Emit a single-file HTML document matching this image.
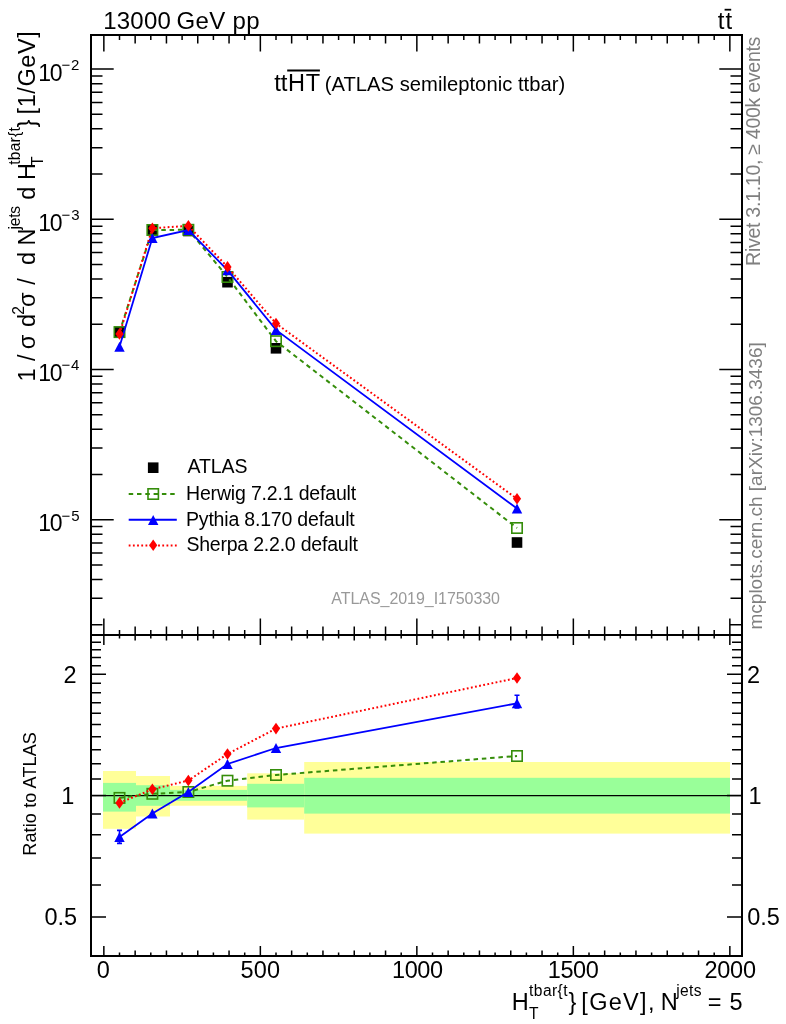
<!DOCTYPE html>
<html><head><meta charset="utf-8"><style>html,body{margin:0;padding:0;background:#fff;overflow:hidden}svg{display:block;will-change:transform}text{font-family:"Liberation Sans",sans-serif}</style></head>
<body><svg width="786" height="1024" viewBox="0 0 786 1024">
<rect x="0" y="0" width="786" height="1024" fill="#fff"/>
<defs><clipPath id="cm"><rect x="92" y="36" width="649" height="598"/></clipPath><clipPath id="cr"><rect x="92" y="636" width="649" height="319"/></clipPath></defs>
<rect x="103" y="771" width="33.00" height="57.80" fill="#ffff99"/>
<rect x="103" y="782.9" width="33.00" height="28.70" fill="#99ff99"/>
<rect x="136" y="776" width="34.00" height="40.50" fill="#ffff99"/>
<rect x="136" y="785.2" width="34.00" height="20.60" fill="#99ff99"/>
<rect x="170" y="785.9" width="77.20" height="19.80" fill="#ffff99"/>
<rect x="170" y="789.9" width="77.20" height="10.90" fill="#99ff99"/>
<rect x="247.2" y="773.3" width="57.00" height="46.30" fill="#ffff99"/>
<rect x="247.2" y="783.8" width="57.00" height="23.60" fill="#99ff99"/>
<rect x="304.2" y="762" width="425.80" height="71.60" fill="#ffff99"/>
<rect x="304.2" y="777.8" width="425.80" height="35.80" fill="#99ff99"/>
<line x1="91" y1="795.6" x2="742" y2="795.6" stroke="#000" stroke-width="1.35"/>
<path d="M103.85 35.00L103.85 51.50M103.85 635.00L103.85 618.50M103.85 635.00L103.85 645.00M103.85 956.00L103.85 946.00M119.50 35.00L119.50 40.00M119.50 635.00L119.50 630.00M119.50 635.00L119.50 638.50M119.50 956.00L119.50 952.50M135.15 35.00L135.15 43.50M135.15 635.00L135.15 626.50M135.15 635.00L135.15 640.50M135.15 956.00L135.15 950.50M150.80 35.00L150.80 40.00M150.80 635.00L150.80 630.00M150.80 635.00L150.80 638.50M150.80 956.00L150.80 952.50M166.45 35.00L166.45 43.50M166.45 635.00L166.45 626.50M166.45 635.00L166.45 640.50M166.45 956.00L166.45 950.50M182.10 35.00L182.10 40.00M182.10 635.00L182.10 630.00M182.10 635.00L182.10 638.50M182.10 956.00L182.10 952.50M197.75 35.00L197.75 43.50M197.75 635.00L197.75 626.50M197.75 635.00L197.75 640.50M197.75 956.00L197.75 950.50M213.40 35.00L213.40 40.00M213.40 635.00L213.40 630.00M213.40 635.00L213.40 638.50M213.40 956.00L213.40 952.50M229.05 35.00L229.05 43.50M229.05 635.00L229.05 626.50M229.05 635.00L229.05 640.50M229.05 956.00L229.05 950.50M244.70 35.00L244.70 40.00M244.70 635.00L244.70 630.00M244.70 635.00L244.70 638.50M244.70 956.00L244.70 952.50M260.35 35.00L260.35 51.50M260.35 635.00L260.35 618.50M260.35 635.00L260.35 645.00M260.35 956.00L260.35 946.00M276.00 35.00L276.00 40.00M276.00 635.00L276.00 630.00M276.00 635.00L276.00 638.50M276.00 956.00L276.00 952.50M291.65 35.00L291.65 43.50M291.65 635.00L291.65 626.50M291.65 635.00L291.65 640.50M291.65 956.00L291.65 950.50M307.30 35.00L307.30 40.00M307.30 635.00L307.30 630.00M307.30 635.00L307.30 638.50M307.30 956.00L307.30 952.50M322.95 35.00L322.95 43.50M322.95 635.00L322.95 626.50M322.95 635.00L322.95 640.50M322.95 956.00L322.95 950.50M338.60 35.00L338.60 40.00M338.60 635.00L338.60 630.00M338.60 635.00L338.60 638.50M338.60 956.00L338.60 952.50M354.25 35.00L354.25 43.50M354.25 635.00L354.25 626.50M354.25 635.00L354.25 640.50M354.25 956.00L354.25 950.50M369.90 35.00L369.90 40.00M369.90 635.00L369.90 630.00M369.90 635.00L369.90 638.50M369.90 956.00L369.90 952.50M385.55 35.00L385.55 43.50M385.55 635.00L385.55 626.50M385.55 635.00L385.55 640.50M385.55 956.00L385.55 950.50M401.20 35.00L401.20 40.00M401.20 635.00L401.20 630.00M401.20 635.00L401.20 638.50M401.20 956.00L401.20 952.50M416.85 35.00L416.85 51.50M416.85 635.00L416.85 618.50M416.85 635.00L416.85 645.00M416.85 956.00L416.85 946.00M432.50 35.00L432.50 40.00M432.50 635.00L432.50 630.00M432.50 635.00L432.50 638.50M432.50 956.00L432.50 952.50M448.15 35.00L448.15 43.50M448.15 635.00L448.15 626.50M448.15 635.00L448.15 640.50M448.15 956.00L448.15 950.50M463.80 35.00L463.80 40.00M463.80 635.00L463.80 630.00M463.80 635.00L463.80 638.50M463.80 956.00L463.80 952.50M479.45 35.00L479.45 43.50M479.45 635.00L479.45 626.50M479.45 635.00L479.45 640.50M479.45 956.00L479.45 950.50M495.10 35.00L495.10 40.00M495.10 635.00L495.10 630.00M495.10 635.00L495.10 638.50M495.10 956.00L495.10 952.50M510.75 35.00L510.75 43.50M510.75 635.00L510.75 626.50M510.75 635.00L510.75 640.50M510.75 956.00L510.75 950.50M526.40 35.00L526.40 40.00M526.40 635.00L526.40 630.00M526.40 635.00L526.40 638.50M526.40 956.00L526.40 952.50M542.05 35.00L542.05 43.50M542.05 635.00L542.05 626.50M542.05 635.00L542.05 640.50M542.05 956.00L542.05 950.50M557.70 35.00L557.70 40.00M557.70 635.00L557.70 630.00M557.70 635.00L557.70 638.50M557.70 956.00L557.70 952.50M573.35 35.00L573.35 51.50M573.35 635.00L573.35 618.50M573.35 635.00L573.35 645.00M573.35 956.00L573.35 946.00M589.00 35.00L589.00 40.00M589.00 635.00L589.00 630.00M589.00 635.00L589.00 638.50M589.00 956.00L589.00 952.50M604.65 35.00L604.65 43.50M604.65 635.00L604.65 626.50M604.65 635.00L604.65 640.50M604.65 956.00L604.65 950.50M620.30 35.00L620.30 40.00M620.30 635.00L620.30 630.00M620.30 635.00L620.30 638.50M620.30 956.00L620.30 952.50M635.95 35.00L635.95 43.50M635.95 635.00L635.95 626.50M635.95 635.00L635.95 640.50M635.95 956.00L635.95 950.50M651.60 35.00L651.60 40.00M651.60 635.00L651.60 630.00M651.60 635.00L651.60 638.50M651.60 956.00L651.60 952.50M667.25 35.00L667.25 43.50M667.25 635.00L667.25 626.50M667.25 635.00L667.25 640.50M667.25 956.00L667.25 950.50M682.90 35.00L682.90 40.00M682.90 635.00L682.90 630.00M682.90 635.00L682.90 638.50M682.90 956.00L682.90 952.50M698.55 35.00L698.55 43.50M698.55 635.00L698.55 626.50M698.55 635.00L698.55 640.50M698.55 956.00L698.55 950.50M714.20 35.00L714.20 40.00M714.20 635.00L714.20 630.00M714.20 635.00L714.20 638.50M714.20 956.00L714.20 952.50M729.85 35.00L729.85 51.50M729.85 635.00L729.85 618.50M729.85 635.00L729.85 645.00M729.85 956.00L729.85 946.00M91.00 624.69L102.50 624.69M742.00 624.69L730.50 624.69M91.00 598.24L102.50 598.24M742.00 598.24L730.50 598.24M91.00 579.47L102.50 579.47M742.00 579.47L730.50 579.47M91.00 564.91L102.50 564.91M742.00 564.91L730.50 564.91M91.00 553.02L102.50 553.02M742.00 553.02L730.50 553.02M91.00 542.97L102.50 542.97M742.00 542.97L730.50 542.97M91.00 534.26L102.50 534.26M742.00 534.26L730.50 534.26M91.00 526.57L102.50 526.57M742.00 526.57L730.50 526.57M91.00 519.70L113.70 519.70M742.00 519.70L719.30 519.70M91.00 474.49L102.50 474.49M742.00 474.49L730.50 474.49M91.00 448.04L102.50 448.04M742.00 448.04L730.50 448.04M91.00 429.27L102.50 429.27M742.00 429.27L730.50 429.27M91.00 414.71L102.50 414.71M742.00 414.71L730.50 414.71M91.00 402.82L102.50 402.82M742.00 402.82L730.50 402.82M91.00 392.77L102.50 392.77M742.00 392.77L730.50 392.77M91.00 384.06L102.50 384.06M742.00 384.06L730.50 384.06M91.00 376.37L102.50 376.37M742.00 376.37L730.50 376.37M91.00 369.50L113.70 369.50M742.00 369.50L719.30 369.50M91.00 324.29L102.50 324.29M742.00 324.29L730.50 324.29M91.00 297.84L102.50 297.84M742.00 297.84L730.50 297.84M91.00 279.07L102.50 279.07M742.00 279.07L730.50 279.07M91.00 264.51L102.50 264.51M742.00 264.51L730.50 264.51M91.00 252.62L102.50 252.62M742.00 252.62L730.50 252.62M91.00 242.57L102.50 242.57M742.00 242.57L730.50 242.57M91.00 233.86L102.50 233.86M742.00 233.86L730.50 233.86M91.00 226.17L102.50 226.17M742.00 226.17L730.50 226.17M91.00 219.30L113.70 219.30M742.00 219.30L719.30 219.30M91.00 174.09L102.50 174.09M742.00 174.09L730.50 174.09M91.00 147.64L102.50 147.64M742.00 147.64L730.50 147.64M91.00 128.87L102.50 128.87M742.00 128.87L730.50 128.87M91.00 114.31L102.50 114.31M742.00 114.31L730.50 114.31M91.00 102.42L102.50 102.42M742.00 102.42L730.50 102.42M91.00 92.37L102.50 92.37M742.00 92.37L730.50 92.37M91.00 83.66L102.50 83.66M742.00 83.66L730.50 83.66M91.00 75.97L102.50 75.97M742.00 75.97L730.50 75.97M91.00 69.10L113.70 69.10M742.00 69.10L719.30 69.10M91.00 956.02L101.00 956.02M742.00 956.02L732.00 956.02M91.00 916.95L106.00 916.95M742.00 916.95L727.00 916.95M91.00 885.03L101.00 885.03M742.00 885.03L732.00 885.03M91.00 858.04L101.00 858.04M742.00 858.04L732.00 858.04M91.00 834.67L101.00 834.67M742.00 834.67L732.00 834.67M91.00 814.05L101.00 814.05M742.00 814.05L732.00 814.05M91.00 795.60L106.00 795.60M742.00 795.60L727.00 795.60M91.00 778.91L101.00 778.91M742.00 778.91L732.00 778.91M91.00 763.68L101.00 763.68M742.00 763.68L732.00 763.68M91.00 749.67L101.00 749.67M742.00 749.67L732.00 749.67M91.00 736.69L101.00 736.69M742.00 736.69L732.00 736.69M91.00 724.61L101.00 724.61M742.00 724.61L732.00 724.61M91.00 713.32L101.00 713.32M742.00 713.32L732.00 713.32M91.00 702.70L101.00 702.70M742.00 702.70L732.00 702.70M91.00 692.70L101.00 692.70M742.00 692.70L732.00 692.70M91.00 683.23L101.00 683.23M742.00 683.23L732.00 683.23M91.00 674.25L106.00 674.25M742.00 674.25L727.00 674.25M91.00 665.71L101.00 665.71M742.00 665.71L732.00 665.71M91.00 657.56L101.00 657.56M742.00 657.56L732.00 657.56M91.00 649.78L101.00 649.78M742.00 649.78L732.00 649.78M91.00 642.33L101.00 642.33M742.00 642.33L732.00 642.33M91.00 635.18L101.00 635.18M742.00 635.18L732.00 635.18" stroke="#000" stroke-width="1.5" fill="none"/>
<rect x="114.20" y="326.70" width="10.6" height="10.6" fill="#000"/>
<rect x="147.06" y="224.70" width="10.6" height="10.6" fill="#000"/>
<rect x="183.06" y="225.70" width="10.6" height="10.6" fill="#000"/>
<rect x="222.19" y="276.90" width="10.6" height="10.6" fill="#000"/>
<rect x="270.70" y="343.00" width="10.6" height="10.6" fill="#000"/>
<rect x="511.71" y="537.20" width="10.6" height="10.6" fill="#000"/>
<polyline points="119.50,332.10 152.37,230.00 188.36,229.80 227.49,277.00 276.00,341.20 517.01,528.00" fill="none" stroke="#358d0a" stroke-width="2" stroke-dasharray="4.5 3.8" clip-path="url(#cm)"/>
<rect x="114.30" y="326.90" width="10.4" height="10.4" fill="none" stroke="#358d0a" stroke-width="1.6"/>
<rect x="147.17" y="224.80" width="10.4" height="10.4" fill="none" stroke="#358d0a" stroke-width="1.6"/>
<rect x="183.16" y="224.60" width="10.4" height="10.4" fill="none" stroke="#358d0a" stroke-width="1.6"/>
<rect x="222.29" y="271.80" width="10.4" height="10.4" fill="none" stroke="#358d0a" stroke-width="1.6"/>
<rect x="270.80" y="336.00" width="10.4" height="10.4" fill="none" stroke="#358d0a" stroke-width="1.6"/>
<rect x="511.81" y="522.80" width="10.4" height="10.4" fill="none" stroke="#358d0a" stroke-width="1.6"/>
<polyline points="119.50,346.80 152.37,238.00 188.36,230.00 227.49,270.20 276.00,329.90 517.01,508.50" fill="none" stroke="#0000ff" stroke-width="1.8" clip-path="url(#cm)"/>
<path d="M114.30 351.80L124.70 351.80L119.50 341.80Z" fill="#0000ff"/>
<path d="M147.17 243.00L157.56 243.00L152.37 233.00Z" fill="#0000ff"/>
<path d="M183.16 235.00L193.56 235.00L188.36 225.00Z" fill="#0000ff"/>
<path d="M222.29 275.20L232.69 275.20L227.49 265.20Z" fill="#0000ff"/>
<path d="M270.80 334.90L281.20 334.90L276.00 324.90Z" fill="#0000ff"/>
<path d="M511.81 513.50L522.21 513.50L517.01 503.50Z" fill="#0000ff"/>
<polyline points="119.50,333.90 152.37,228.20 188.36,225.90 227.49,266.90 276.00,323.50 517.01,498.80" fill="none" stroke="#ff0000" stroke-width="2" stroke-dasharray="1.8 2.4" clip-path="url(#cm)"/>
<path d="M119.50 328.10L123.60 333.90L119.50 339.70L115.40 333.90Z" fill="#ff0000"/>
<path d="M152.37 222.40L156.47 228.20L152.37 234.00L148.27 228.20Z" fill="#ff0000"/>
<path d="M188.36 220.10L192.46 225.90L188.36 231.70L184.26 225.90Z" fill="#ff0000"/>
<path d="M227.49 261.10L231.59 266.90L227.49 272.70L223.39 266.90Z" fill="#ff0000"/>
<path d="M276.00 317.70L280.10 323.50L276.00 329.30L271.90 323.50Z" fill="#ff0000"/>
<path d="M517.01 493.00L521.11 498.80L517.01 504.60L512.91 498.80Z" fill="#ff0000"/>
<polyline points="119.50,797.90 152.37,793.80 188.36,792.00 227.49,780.70 276.00,775.00 517.01,756.00" fill="none" stroke="#358d0a" stroke-width="2" stroke-dasharray="4.5 3.8" clip-path="url(#cr)"/>
<rect x="114.30" y="792.70" width="10.4" height="10.4" fill="none" stroke="#358d0a" stroke-width="1.6"/>
<rect x="147.17" y="788.60" width="10.4" height="10.4" fill="none" stroke="#358d0a" stroke-width="1.6"/>
<rect x="183.16" y="786.80" width="10.4" height="10.4" fill="none" stroke="#358d0a" stroke-width="1.6"/>
<rect x="222.29" y="775.50" width="10.4" height="10.4" fill="none" stroke="#358d0a" stroke-width="1.6"/>
<rect x="270.80" y="769.80" width="10.4" height="10.4" fill="none" stroke="#358d0a" stroke-width="1.6"/>
<rect x="511.81" y="750.80" width="10.4" height="10.4" fill="none" stroke="#358d0a" stroke-width="1.6"/>
<polyline points="119.50,837.00 152.37,813.50 188.36,792.00 227.49,764.00 276.00,748.00 517.01,703.30" fill="none" stroke="#0000ff" stroke-width="1.8" clip-path="url(#cr)"/>
<path d="M119.50 830.4L119.50 843.4M117.00 830.4L122.00 830.4M117.00 843.4L122.00 843.4" stroke="#0000ff" stroke-width="1.6" fill="none"/>
<path d="M517.01 695.3L517.01 708M514.51 695.3L519.51 695.3M514.51 708L519.51 708" stroke="#0000ff" stroke-width="1.6" fill="none"/>
<path d="M114.30 842.00L124.70 842.00L119.50 832.00Z" fill="#0000ff"/>
<path d="M147.17 818.50L157.56 818.50L152.37 808.50Z" fill="#0000ff"/>
<path d="M183.16 797.00L193.56 797.00L188.36 787.00Z" fill="#0000ff"/>
<path d="M222.29 769.00L232.69 769.00L227.49 759.00Z" fill="#0000ff"/>
<path d="M270.80 753.00L281.20 753.00L276.00 743.00Z" fill="#0000ff"/>
<path d="M511.81 708.30L522.21 708.30L517.01 698.30Z" fill="#0000ff"/>
<polyline points="119.50,802.90 152.37,789.30 188.36,780.50 227.49,754.00 276.00,728.60 517.01,678.00" fill="none" stroke="#ff0000" stroke-width="2" stroke-dasharray="1.8 2.4" clip-path="url(#cr)"/>
<path d="M119.50 797.10L123.60 802.90L119.50 808.70L115.40 802.90Z" fill="#ff0000"/>
<path d="M152.37 783.50L156.47 789.30L152.37 795.10L148.27 789.30Z" fill="#ff0000"/>
<path d="M188.36 774.70L192.46 780.50L188.36 786.30L184.26 780.50Z" fill="#ff0000"/>
<path d="M227.49 748.20L231.59 754.00L227.49 759.80L223.39 754.00Z" fill="#ff0000"/>
<path d="M276.00 722.80L280.10 728.60L276.00 734.40L271.90 728.60Z" fill="#ff0000"/>
<path d="M517.01 672.20L521.11 678.00L517.01 683.80L512.91 678.00Z" fill="#ff0000"/>
<path d="M91 35H742V956H91ZM91 635H742" stroke="#000" stroke-width="2" fill="none"/>
<rect x="147.90" y="462.40" width="10.6" height="10.6" fill="#000"/>
<line x1="128.7" y1="494" x2="175.0" y2="494" stroke="#358d0a" stroke-width="2" stroke-dasharray="4.5 3.8"/>
<rect x="148.00" y="488.80" width="10.4" height="10.4" fill="none" stroke="#358d0a" stroke-width="1.6"/>
<line x1="128.7" y1="519.8" x2="176.8" y2="519.8" stroke="#0000ff" stroke-width="2"/>
<path d="M148.00 525.00L158.40 525.00L153.20 515.00Z" fill="#0000ff"/>
<line x1="128.7" y1="545.4" x2="176.8" y2="545.4" stroke="#ff0000" stroke-width="2" stroke-dasharray="1.8 2.4"/>
<path d="M153.20 539.50L157.30 545.30L153.20 551.10L149.10 545.30Z" fill="#ff0000"/>
<text x="187.54" y="472.70" font-size="19.5" letter-spacing="-0.118">ATLAS</text>
<text x="186.02" y="499.60" font-size="19.5" letter-spacing="-0.171">Herwig 7.2.1 default</text>
<text x="186.02" y="525.50" font-size="19.5" letter-spacing="-0.194">Pythia 8.170 default</text>
<text x="186.43" y="551.00" font-size="19.5" letter-spacing="-0.217">Sherpa 2.2.0 default</text>
<text x="103.30" y="29.00" font-size="24" letter-spacing="0.179">13000</text>
<text x="176.57" y="29.00" font-size="24" letter-spacing="0.308">GeV pp</text>
<text x="717.64" y="29.00" font-size="24" letter-spacing="1.123">tt</text>
<rect x="724.6" y="8.8" width="6.6" height="1.8" fill="#000"/>
<text x="274.17" y="91.20" font-size="24">tt</text>
<text x="288.08" y="91.20" font-size="23.5" letter-spacing="0.617">HT</text>
<rect x="287.2" y="69.5" width="32.7" height="2" fill="#000"/>
<text x="324.68" y="91.20" font-size="20.2" letter-spacing="0.033">(ATLAS semileptonic ttbar)</text>
<text x="331.35" y="604.20" font-size="16" letter-spacing="-0.054" fill="#999">ATLAS_2019_I1750330</text>
<text transform="rotate(-90)" x="-265.90" y="759.90" font-size="19.6" letter-spacing="-0.308" fill="#808080">Rivet 3.1.10, ≥ 400k events</text>
<text transform="rotate(-90)" x="-629.51" y="761.90" font-size="19" fill="#808080">mcplots.cern.ch [arXiv:1306.3436]</text>
<text transform="rotate(-90)" x="-855.73" y="36.40" font-size="18" letter-spacing="0.143">Ratio to ATLAS</text>
<text transform="rotate(-90)" x="-381.60" y="34.80" font-size="23.5">1</text>
<text transform="rotate(-90)" x="-361.04" y="34.80" font-size="23.5">/</text>
<text transform="rotate(-90)" x="-349.16" y="34.80" font-size="23.5">σ</text>
<text transform="rotate(-90)" x="-327.09" y="34.80" font-size="23.5">d</text>
<text transform="rotate(-90)" x="-314.82" y="23.50" font-size="15.6">2</text>
<text transform="rotate(-90)" x="-306.94" y="34.80" font-size="23.5">σ</text>
<text transform="rotate(-90)" x="-284.80" y="34.80" font-size="23.5">/</text>
<text transform="rotate(-90)" x="-265.10" y="34.80" font-size="23.5">d</text>
<text transform="rotate(-90)" x="-245.45" y="34.80" font-size="23.5">N</text>
<text transform="rotate(-90)" x="-229.55" y="20.40" font-size="15.6" letter-spacing="-0.223">jets</text>
<text transform="rotate(-90)" x="-199.85" y="34.80" font-size="23.5">d</text>
<text transform="rotate(-90)" x="-179.94" y="34.80" font-size="23.5">H</text>
<text transform="rotate(-90)" x="-165.90" y="42.80" font-size="15.6">T</text>
<text transform="rotate(-90)" x="-164.78" y="20.00" font-size="15.6" letter-spacing="0.214">tbar{t</text>
<text transform="rotate(-90)" x="-127.40" y="34.80" font-size="23.5">}</text>
<text transform="rotate(-90)" x="-114.42" y="34.80" font-size="23.5" letter-spacing="0.571">[1/GeV]</text>
<text x="38.24" y="80.80" font-size="23" letter-spacing="-1.311">10</text>
<text x="61.57" y="69.90" font-size="15" letter-spacing="0.792">−2</text>
<text x="38.24" y="231.00" font-size="23" letter-spacing="-1.311">10</text>
<text x="61.57" y="220.10" font-size="15" letter-spacing="0.879">−3</text>
<text x="38.24" y="381.20" font-size="23" letter-spacing="-1.311">10</text>
<text x="61.57" y="370.30" font-size="15" letter-spacing="0.672">−4</text>
<text x="38.24" y="531.40" font-size="23" letter-spacing="-1.311">10</text>
<text x="61.57" y="520.50" font-size="15" letter-spacing="0.812">−5</text>
<text x="63.56" y="682.50" font-size="23.5">2</text>
<text x="747.01" y="682.50" font-size="23.5">2</text>
<text x="61.31" y="804.20" font-size="23.5">1</text>
<text x="748.52" y="804.20" font-size="23.5">1</text>
<text x="44.58" y="925.20" font-size="23.5" letter-spacing="-0.039">0.5</text>
<text x="747.26" y="925.20" font-size="23.5" letter-spacing="-0.014">0.5</text>
<text x="96.81" y="978.10" font-size="23.5">0</text>
<text x="240.62" y="978.10" font-size="23.5" letter-spacing="0.067">500</text>
<text x="392.01" y="978.10" font-size="23.5" letter-spacing="-0.442">1000</text>
<text x="547.75" y="978.10" font-size="23.5" letter-spacing="-0.430">1500</text>
<text x="704.54" y="978.10" font-size="23.5" letter-spacing="-0.280">2000</text>
<text x="511.87" y="1009.50" font-size="23.5">H</text>
<text x="528.95" y="1018.60" font-size="15.6">T</text>
<text x="529.07" y="996.10" font-size="15.6" letter-spacing="0.418">tbar{t</text>
<text x="568.53" y="1009.50" font-size="23.5">}</text>
<text x="581.35" y="1009.50" font-size="23.5" letter-spacing="1.296">[GeV],</text>
<text x="660.86" y="1009.50" font-size="23.5">N</text>
<text x="676.13" y="996.10" font-size="15.6" letter-spacing="0.393">jets</text>
<text x="707.76" y="1009.50" font-size="23.5">=</text>
<text x="729.62" y="1009.50" font-size="23.5">5</text>
</svg></body></html>
